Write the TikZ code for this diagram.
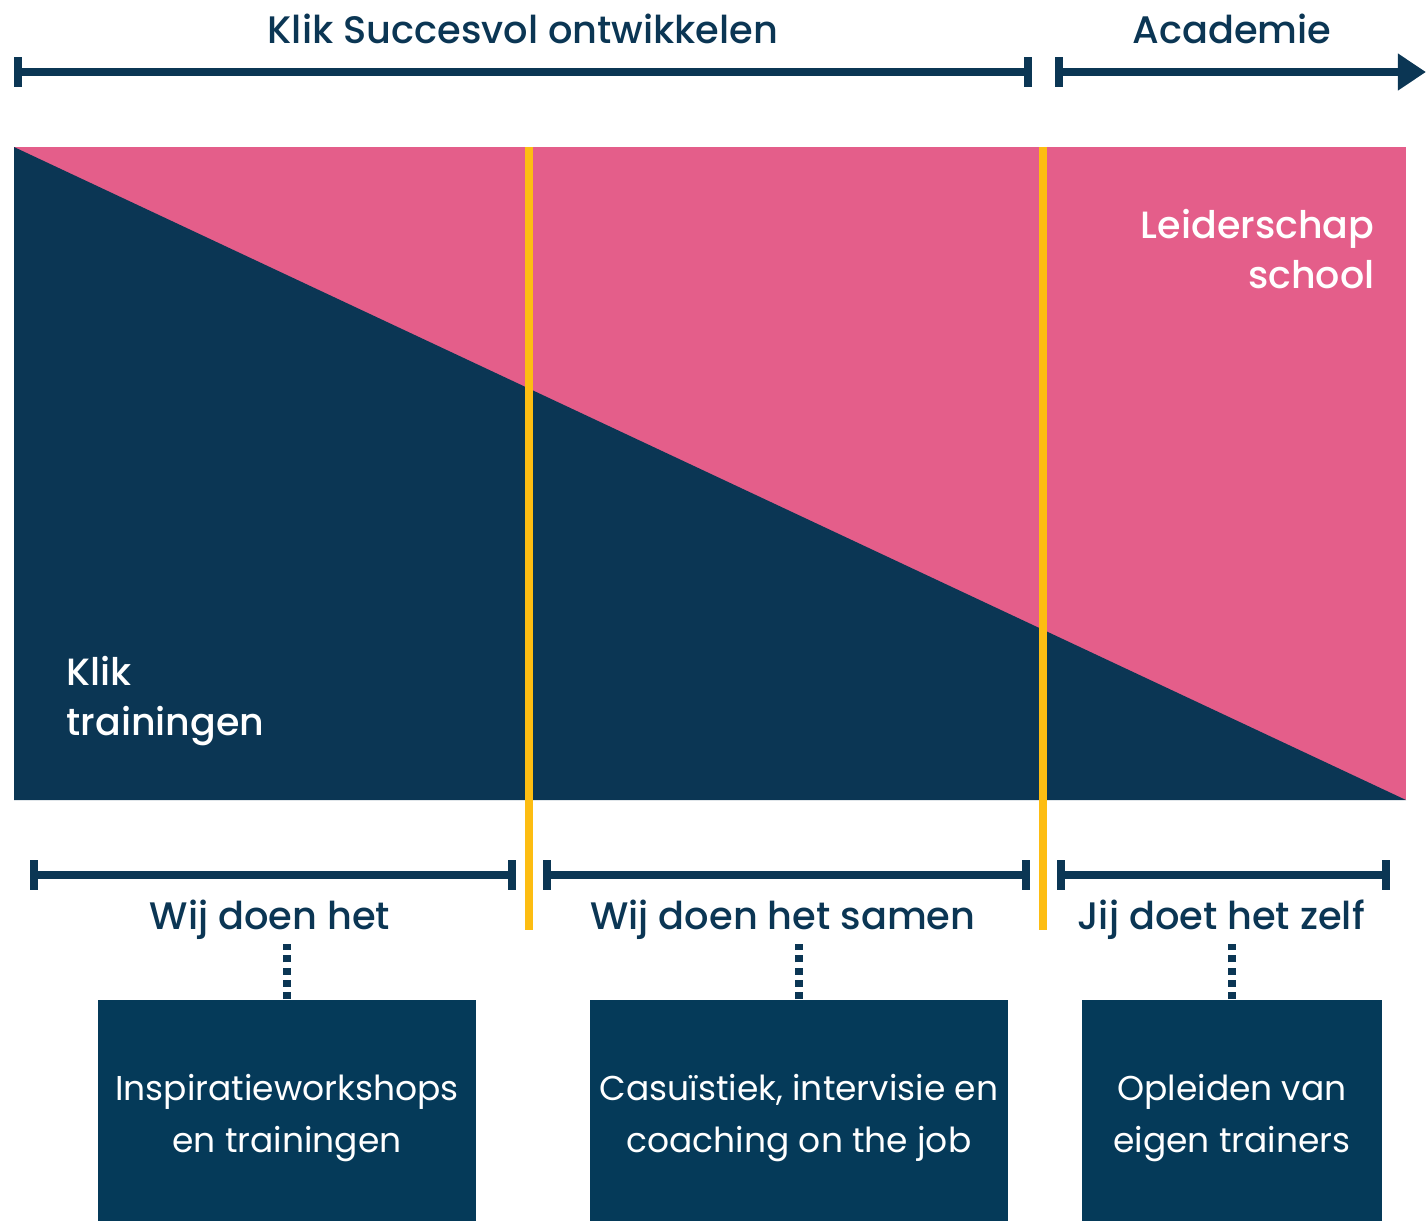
\documentclass[tikz,border=0pt]{standalone}
\usepackage{fontspec}
\setmainfont{Poppins}
\newfontfamily\headFont{Poppins Medium}
\usetikzlibrary{arrows.meta}
\definecolor{navyBlue}{HTML}{0B3654}
\definecolor{boxBlue}{HTML}{053A59}
\definecolor{rosePink}{HTML}{E45E8A}
\definecolor{sunYellow}{HTML}{FDBD12}
\newcommand{\rulerBar}[2]{%%
  \draw[rulerStyle,{Bar[width=8.5pt]}-{Bar[width=8.5pt]}] (#1) -- (#2);
}
\newcommand{\phaseBox}[4]{%%
  %% A box below a phase, hung from a dotted line.
  \node[boxStyle,minimum width=#3] (#1) at (#2,1118) {#4};
  \draw[dotStyle] (#1.north) -- ++(0,-55);
}

\begin{document}
\begin{tikzpicture}[%%
  x=0.01cm,y=-0.01cm,%%
  rulerStyle/.style={navyBlue,line width=2.3pt},%%
  dividerStyle/.style={sunYellow,line width=2.2pt},%%
  dotStyle/.style={navyBlue,line width=2pt,dash pattern=on 2pt off 1.5pt},%%
  headStyle/.style={navyBlue,font=\fontsize{10.9}{13}\headFont,inner sep=0pt},%%
  chartStyle/.style={white,font=\fontsize{10.8}{14}\headFont,inner sep=0pt},%%
  boxStyle/.style={fill=boxBlue,text=white,minimum height=2.36cm,align=center,%%
    inner sep=0pt,font=\fontsize{9.8}{14.8}\selectfont}%%
]
\useasboundingbox (0,0) rectangle (1426,1220);
%%
%% The time line at the top.
\coordinate (topA) at (14,72);
\coordinate (topB) at (1032,72);
\coordinate (acadA) at (1055,72);
\coordinate (acadB) at (1426,72);
\rulerBar{topA}{topB}
\draw[rulerStyle,{Bar[width=8.5pt]}-{Triangle[length=8pt,width=10pt]}] (acadA) -- (acadB);
\node[headStyle] (klikHead) at (523,29) {Klik Succesvol ontwikkelen};
\node[headStyle] (acadHead) at (1232,29) {Academie};
%%
%% The chart.
\fill[rosePink] (14,147) rectangle (1406,800);
\fill[navyBlue] (14,147) -- (1406,800) -- (14,800) -- cycle;
\node[chartStyle,align=right,anchor=north east] (leiderLabel) at (1375,209) {Leiderschap\\school};
\node[chartStyle,align=left,anchor=north west] (klikLabel) at (66,656) {Klik\\trainingen};
%% The dividers.
\draw[dividerStyle] (529,147) -- (529,930);
\draw[dividerStyle] (1043,147) -- (1043,930);
%%
%% The phases.
\rulerBar{30,875}{516,875}
\rulerBar{543,875}{1030,875}
\rulerBar{1057,875}{1390,875}
\node[headStyle] (phaseA) at (270,920) {Wij doen het};
\node[headStyle] (phaseB) at (783,920) {Wij doen het samen};
\node[headStyle] (phaseC) at (1221,920) {Jij doet het zelf};
%%
\phaseBox{boxA}{287}{3.78cm}{Inspiratieworkshops\\en trainingen}
\phaseBox{boxB}{799}{4.18cm}{Casuïstiek, intervisie en\\coaching on the job}
\phaseBox{boxC}{1232}{3.0cm}{Opleiden van\\eigen trainers}
\end{tikzpicture}
\end{document}
